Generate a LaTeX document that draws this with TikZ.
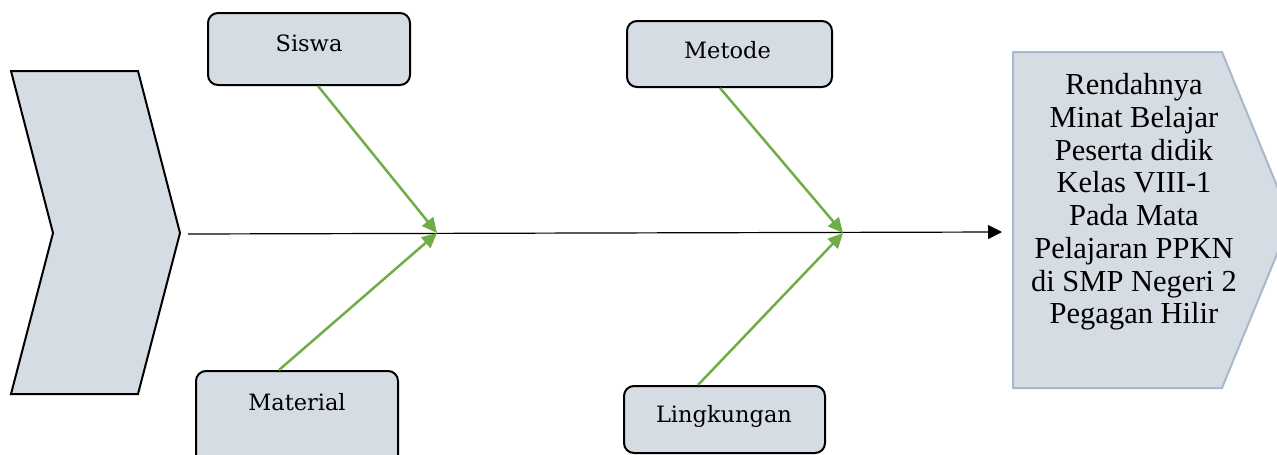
\documentclass[tikz,border=0pt]{standalone}
\usepackage{fontspec}
\setmainfont{Liberation Serif}
\newfontfamily\boxfont{DejaVu Serif}
\usetikzlibrary{arrows.meta,calc}
\definecolor{boxfill}{HTML}{D5DCE4}
\definecolor{effectedge}{HTML}{A9B8CC}
\definecolor{bonegreen}{HTML}{70AD47}
\tikzset{
  causebox/.style={draw=black, line width=2pt, fill=boxfill, rounded corners=10pt,
    rectangle, inner sep=0pt},
  causetext/.style={font=\boxfont\fontsize{22.5}{26}\selectfont, anchor=base, inner sep=0pt},
  bone/.style={draw=bonegreen, line width=2.5pt,
    -{Triangle[length=15pt,width=14pt]}},
  spine/.style={draw=black, line width=1.2pt, -{Triangle[length=14pt,width=14pt]}},
}
\begin{document}
\begin{tikzpicture}[x=1pt,y=-1pt]
  \useasboundingbox (0,0) rectangle (1277,455);
  \clip (0,0) rectangle (1277,455);

  % head of the fish: chevron on the left
  \draw[black, line width=2pt, fill=boxfill, line join=miter]
    (11,71) -- (138,71) -- (180,233) -- (138,394) -- (11,394) -- (53,233) -- cycle;

  % effect box on the right
  \draw[effectedge, line width=2pt, fill=boxfill]
    (1013,52) -- (1222,52) -- (1291,220) -- (1222,388) -- (1013,388) -- cycle;
  \node[align=center, font=\fontsize{30.5}{32.7}\selectfont, inner sep=0pt] (effect) at (1134,202)
    {Rendahnya\\Minat Belajar\\Peserta didik\\Kelas VIII-1\\Pada Mata\\Pelajaran PPKN\\di SMP Negeri 2\\Pegagan Hilir};

  % cause boxes
  \node[causebox, minimum width=202pt, minimum height=72pt] (siswa) at (309,49) {};
  \node[causetext] (siswaT) at (309,51) {Siswa};
  \node[causebox, minimum width=205pt, minimum height=66pt] (metode) at (729.5,54) {};
  \node[causetext] (metodeT) at (727.5,58) {Metode};
  \node[causebox, minimum width=202pt, minimum height=100pt] (material) at (297,421) {};
  \node[causetext] (materialT) at (297,410) {Material};
  \node[causebox, minimum width=201pt, minimum height=67pt] (lingk) at (724.5,419.5) {};
  \node[causetext] (lingkT) at (724,422) {Lingkungan};

  % spine
  \coordinate (tail) at (188,234);
  \coordinate (tip) at (1002,232);
  \draw[spine] (tail) -- (tip);

  % junctions of the bones on the spine
  \coordinate (j1) at (437,233);
  \coordinate (j2) at (843,233);
  \draw[bone] ($(siswa.south)+(9,0)$) -- (j1);
  \draw[bone] ($(material.north)+(-18,0)$) -- (j1);
  \draw[bone] ($(metode.south)+(-9.5,0)$) -- (j2);
  \draw[bone] ($(lingk.north)+(-26.5,0)$) -- (j2);
\end{tikzpicture}
\end{document}
